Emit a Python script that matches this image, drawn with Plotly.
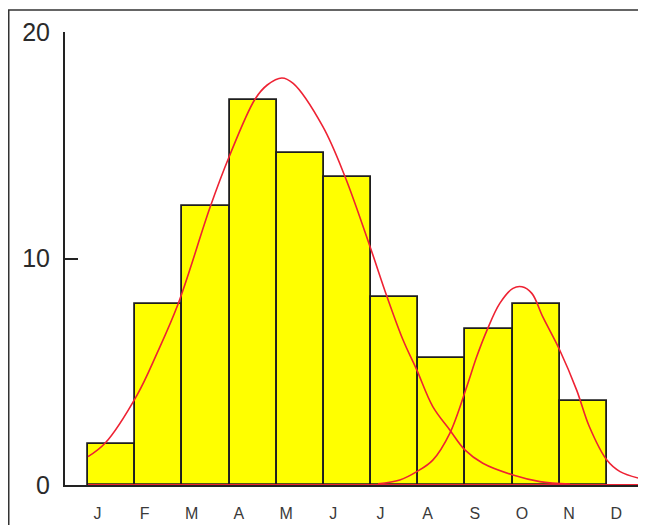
import plotly.graph_objects as go

# ---- data ----
MONTH_LABELS = ["J", "F", "M", "A", "M", "J", "J", "A", "S", "O", "N", "D"]
# bar heights for the bins J-F, F-M, ..., N-D
BAR_VALUES = [1.8, 8.0, 12.3, 17.0, 14.65, 13.6, 8.3, 5.6, 6.9, 8.0, 3.7]

# first fitted curve (x in months from start of J)
CURVE1_X = [0.00, 0.36, 1.04, 1.46, 1.91, 2.59, 2.99, 3.54, 3.80, 4.11, 4.35,
            4.98, 5.45, 5.98, 6.34, 6.68, 6.97, 7.31, 7.67, 7.99, 8.37, 9.01,
            9.58, 10.22]
CURVE1_Y = [1.25, 1.84, 3.97, 5.8, 7.99, 12.27, 14.48, 17.03, 17.66, 17.97, 17.73,
            15.82, 13.61, 10.52, 8.31, 6.40, 5.08, 3.46, 2.43, 1.55, 0.96, 0.44,
            0.15, 0.04]

# second fitted curve
CURVE2_X = [6.15, 6.61, 6.97, 7.31, 7.67, 8.03, 8.24, 8.46, 8.73, 9.01, 9.20,
            9.41, 9.64, 10.00, 10.36, 10.63, 11.00, 11.28, 11.83]
CURVE2_Y = [0.05, 0.22, 0.59, 1.10, 2.28, 4.34, 5.66, 6.84, 8.02, 8.68, 8.75,
            8.46, 7.43, 5.96, 4.19, 2.57, 1.10, 0.59, 0.22]

Y_TICKS = [0, 10, 20]

# ---- layout constants ----
X_MIN, X_MAX = -0.4875, 11.83
LABEL_OFFSET = 0.2
RED = "#ee2233"

bar_x = [i + 0.5 for i in range(len(BAR_VALUES))]

fig = go.Figure()
fig.add_trace(go.Bar(
    x=bar_x, y=BAR_VALUES, width=1.0,
    marker=dict(color="#ffff00", line=dict(color="#1e1e1e", width=1.8)),
    hoverinfo="skip",
))
fig.add_trace(go.Scatter(
    x=CURVE1_X, y=CURVE1_Y, mode="lines",
    line=dict(color=RED, width=1.6, shape="spline"),
))
fig.add_trace(go.Scatter(
    x=CURVE2_X, y=CURVE2_Y, mode="lines",
    line=dict(color=RED, width=1.6, shape="spline"),
))

# red baseline under the curves
fig.add_shape(type="line", xref="x", yref="y", x0=0, x1=X_MAX, y0=0, y1=0,
              line=dict(color=RED, width=2), layer="above")
# picture frame (left and top edges)
fig.add_shape(type="path", xref="paper", yref="paper",
              path="M -0.0968 -0.1 L -0.0968 1.0486 L 0.9983 1.0486",
              line=dict(color="#333333", width=1.5))

fig.update_layout(
    width=638, height=517,
    margin=dict(l=57, r=0, t=24, b=40),
    plot_bgcolor="white", paper_bgcolor="white",
    showlegend=False, bargap=0,
    font=dict(family="Arial"),
)
fig.update_xaxes(
    range=[X_MIN, X_MAX], automargin=False,
    tickvals=[i + LABEL_OFFSET for i in range(len(MONTH_LABELS))],
    ticktext=MONTH_LABELS,
    ticks="", showgrid=False, zeroline=False,
    showline=True, linecolor="#222222", linewidth=2,
    tickfont=dict(size=16, color="#3a3a3a", family="Arial"),
    ticklabelstandoff=13,
)
fig.update_yaxes(
    range=[0, 20], tickvals=Y_TICKS, automargin=False,
    ticks="inside", ticklen=13, tickwidth=2, tickcolor="#222222",
    showgrid=False, zeroline=False,
    showline=True, linecolor="#222222", linewidth=2,
    tickfont=dict(size=25, color="#2a2a2a", family="Arial"),
    ticklabelstandoff=8,
)

fig.write_html("out.html")
